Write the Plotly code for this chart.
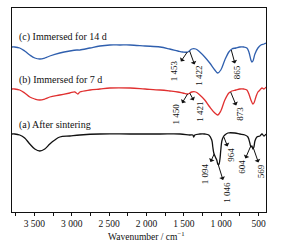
import plotly.graph_objects as go

# wavenumber (cm^-1) and relative transmittance (arbitrary units, offset traces)
wn_a = [3800,3764,3697,3630,3562,3495,3428,3361,3294,3227,3160,3026,2891,2623,2220,1818,1550,1421,1380,1367,
        1353,1286,1220,1166,1126,1112,1099,1072,1059,1045,1032,1018,1005,991,972,951,911,817,750,683,
        642,616,602,589,575,562,548,522,481,454,427,400]
t_a = [78,78,77,74,68,63,61,63,68,72,75,76,77,78,78,78,78,77,77,75,
       77,78,78,77,72,65,59,54,52,48,47,52,62,71,75,77,79,79,78,77,
       75,69,65,66,63,65,71,75,76,78,76,78]

wn_b = [3800,3764,3697,3630,3562,3495,3428,3361,3294,3160,3026,2959,2918,2891,2757,2623,2489,2220,2019,1818,
        1689,1580,1514,1447,1394,1340,1286,1220,1153,1085,1045,1005,951,897,857,803,750,696,656,629,
        602,575,562,535,508,481,454,427,400]
t_b = [123,123,122,119,115,113,112,113,115,117,119,120,118,120,122,123,124,124,123,122,
       121,120,119,118,120,120,117,112,105,99,97,101,112,119,121,122,123,123,122,118,
       112,108,109,115,120,122,124,123,125]

wn_c = [3800,3764,3697,3630,3562,3495,3428,3361,3294,3160,3026,2932,2891,2757,2623,2489,2355,2220,2019,1818,
        1689,1580,1514,1447,1394,1340,1286,1220,1153,1085,1045,1005,951,897,857,803,750,696,656,629,
        602,589,575,548,508,468,427,400]
t_c = [165,165,164,161,157,154,153,154,156,159,161,162,162,164,166,167,167,167,166,165,
       163,161,160,160,163,163,160,155,149,142,139,142,152,160,163,164,165,165,164,160,
       152,150,151,158,164,167,168,169]

series_names = ["(a) After sintering", "(b) Immersed for 7 d", "(c) Immersed for 14 d"]
series_colors = ["#111111", "#e03030", "#2f5fae"]

tick_vals = [3500, 3000, 2500, 2000, 1500, 1000, 500]
tick_text = ["3 500", "3 000", "2 500", "2 000", "1 500", "1 000", "500"]
x_title = "Wavenumber / cm<sup>−1</sup>"

# peak labels: (label, wavenumber, transmittance at arrow origin, text offset x, offset y in px)
peaks = [
    ("1 453", 1453, 160, -13, 19),
    ("1 422", 1422, 161, 9, 25),
    ("865", 865, 162, 6, 22),
    ("1 450", 1450, 118, -12, 20),
    ("1 421", 1421, 119, 10, 19),
    ("873", 873, 120, 9, 22),
    ("1 094", 1094, 58, -9, 20),
    ("1 046", 1046, 49, 9, 29),
    ("964", 964, 75, 7, 18),
    ("604", 604, 66, -9, 21),
    ("569", 569, 64, 8, 23),
]

FONT = "Liberation Serif, Times New Roman, serif"

fig = go.Figure()
for wn, t, name, col in [(wn_a, t_a, series_names[0], series_colors[0]),
                         (wn_b, t_b, series_names[1], series_colors[1]),
                         (wn_c, t_c, series_names[2], series_colors[2])]:
    fig.add_trace(go.Scatter(x=wn, y=t, mode="lines", name=name,
                             line=dict(color=col, width=1.3), line_shape="spline",
                             showlegend=False))

label_y = [87, 132, 175]
for name, ly in zip(series_names, label_y):
    fig.add_annotation(x=3737, y=ly, text=name, showarrow=False, xanchor="left",
                       yanchor="middle", font=dict(family=FONT, size=10, color="#111"))

for lab, x, y, ax, ay in peaks:
    fig.add_annotation(x=x, y=y, text=lab, textangle=-90, showarrow=True,
                       ax=ax, ay=ay, arrowside="start", arrowhead=2, arrowsize=0.9,
                       arrowwidth=1, arrowcolor="#111", standoff=0, startstandoff=0,
                       font=dict(family=FONT, size=9, color="#111"))

fig.add_annotation(xref="paper", yref="paper", x=0.528, y=-0.118, text=x_title,
                   showarrow=False, xanchor="center", yanchor="middle",
                   font=dict(family=FONT, size=9.5, color="#111"))

fig.update_xaxes(range=[3800, 400], tickvals=tick_vals, ticktext=tick_text,
                 ticks="outside", ticklen=3, tickwidth=1, tickcolor="#111",
                 minor=dict(dtick=250, tick0=0, ticks="outside", ticklen=3, tickcolor="#111"),
                 showline=True, linecolor="#111", linewidth=1, mirror=True,
                 showgrid=False, zeroline=False,
                 tickfont=dict(family=FONT, size=9.5, color="#111"))
fig.update_yaxes(range=[0, 204], showticklabels=False, ticks="", showline=True,
                 linecolor="#111", linewidth=1, mirror=True, showgrid=False, zeroline=False)

fig.update_layout(width=289, height=245, margin=dict(l=12, r=23, t=8, b=33),
                  plot_bgcolor="white", paper_bgcolor="white")

fig.write_html("out.html", config={"displayModeBar": False},
               post_script="document.body.style.margin='0px';document.body.style.padding='0px';")
